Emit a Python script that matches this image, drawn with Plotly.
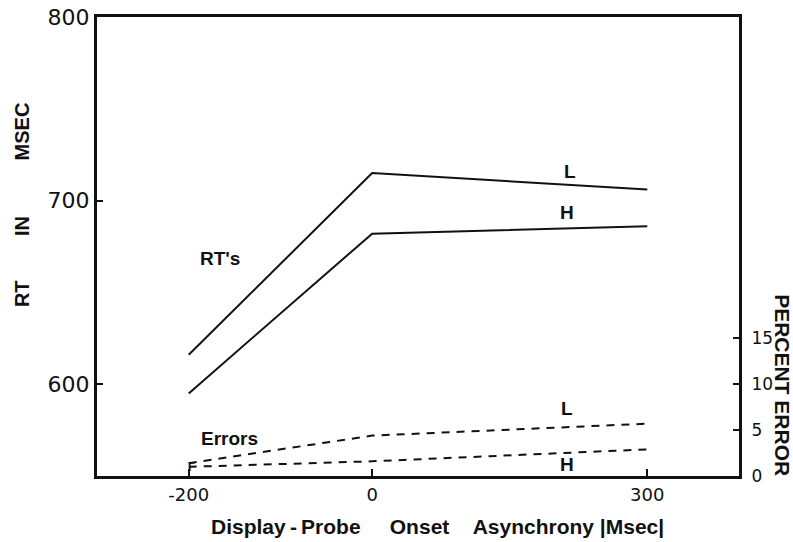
import plotly.graph_objects as go

# Data
soa = [-200, 0, 300]
rt_low = [616, 715, 706]
rt_high = [595, 682, 686]
err_low = [1.4, 4.4, 5.7]
err_high = [1.0, 1.6, 2.9]

x_ticks = [-200, 0, 300]
x_ticktext = ["-200", "0", "300"]
y_ticks = [600, 700, 800]
y2_ticks = [0, 5, 10, 15]

FONT = "Liberation Sans"
NUMFONT = "DejaVu Sans"
BLACK = "#111111"

fig = go.Figure()
fig.add_trace(go.Scatter(x=soa, y=rt_low, mode="lines", line=dict(color=BLACK, width=2),
                         showlegend=False, yaxis="y"))
fig.add_trace(go.Scatter(x=soa, y=rt_high, mode="lines", line=dict(color=BLACK, width=2),
                         showlegend=False, yaxis="y"))
fig.add_trace(go.Scatter(x=soa, y=err_low, mode="lines",
                         line=dict(color=BLACK, width=2, dash="8px,7px"),
                         showlegend=False, yaxis="y2"))
fig.add_trace(go.Scatter(x=soa, y=err_high, mode="lines",
                         line=dict(color=BLACK, width=2, dash="8px,7px"),
                         showlegend=False, yaxis="y2"))

lab = dict(family=FONT, size=19, color=BLACK)
nb = "\u00a0"
annotations = [
    dict(x=-166, y=668.5, text="<b>RT's</b>", showarrow=False, font=lab),
    dict(x=216, y=715.8, text="<b>L</b>", showarrow=False, font=lab),
    dict(x=212, y=693.5, text="<b>H</b>", showarrow=False, font=lab),
    dict(x=-156, y=570.5, text="<b>Errors</b>", showarrow=False, font=lab),
    dict(x=212, y=587, text="<b>L</b>", showarrow=False, font=lab),
    dict(x=213, y=556.5, text="<b>H</b>", showarrow=False, font=lab),
    dict(x=-197, y=555, text="<b>F</b>", showarrow=False,
         font=dict(family=FONT, size=12, color=BLACK)),
    dict(xref="paper", yref="paper", x=-0.117, y=0.590,
         text="<b>RT" + nb * 8 + "IN" + nb * 10 + "MSEC</b>",
         textangle=-90, showarrow=False, xanchor="center", yanchor="middle",
         font=dict(family=FONT, size=20, color=BLACK)),
    dict(xref="paper", yref="paper", x=1.0685, y=0.198,
         text="<b>PERCENT ERROR</b>", textangle=90, showarrow=False,
         xanchor="center", yanchor="middle",
         font=dict(family=FONT, size=21, color=BLACK)),
    dict(xref="paper", yref="paper", x=0.5296, y=-0.109,
         text="<b>Display\u2009-\u2009Probe" + nb * 5 + "Onset" + nb * 4 + "Asynchrony |Msec|</b>",
         showarrow=False, xanchor="center", yanchor="middle",
         font=dict(family=FONT, size=21, color=BLACK)),
]

fig.update_layout(
    width=793, height=542,
    margin=dict(l=97, r=54, t=17, b=66, autoexpand=False),
    paper_bgcolor="white", plot_bgcolor="white",
    showlegend=False,
    annotations=annotations,
    xaxis=dict(range=[-300, 400], tickvals=x_ticks, ticktext=x_ticktext,
               ticks="inside", ticklen=7, tickwidth=2, tickcolor=BLACK,
               showline=True, linewidth=3, linecolor=BLACK, mirror=True,
               showgrid=False, zeroline=False, ticklabeloverflow="allow",
               tickfont=dict(family=NUMFONT, size=18, color=BLACK)),
    yaxis=dict(range=[550, 800], tickvals=y_ticks,
               ticks="inside", ticklen=6, tickwidth=2, tickcolor=BLACK,
               showline=True, linewidth=3, linecolor=BLACK,
               showgrid=False, zeroline=False, ticklabelstandoff=0,
               ticklabeloverflow="allow",
               tickfont=dict(family=NUMFONT, size=22, color=BLACK)),
    yaxis2=dict(range=[0, 50], tickvals=y2_ticks, overlaying="y", side="right",
                ticks="inside", ticklen=6, tickwidth=2, tickcolor=BLACK,
                showline=True, linewidth=3, linecolor=BLACK,
                showgrid=False, zeroline=False, ticklabelstandoff=6,
                ticklabeloverflow="allow",
                tickfont=dict(family=NUMFONT, size=17, color=BLACK)),
)

# Remove the default page margin so the figure sits at the window's corner.
fig.write_html("out.html", config={"displayModeBar": False},
               post_script="document.body.style.margin='0';")
